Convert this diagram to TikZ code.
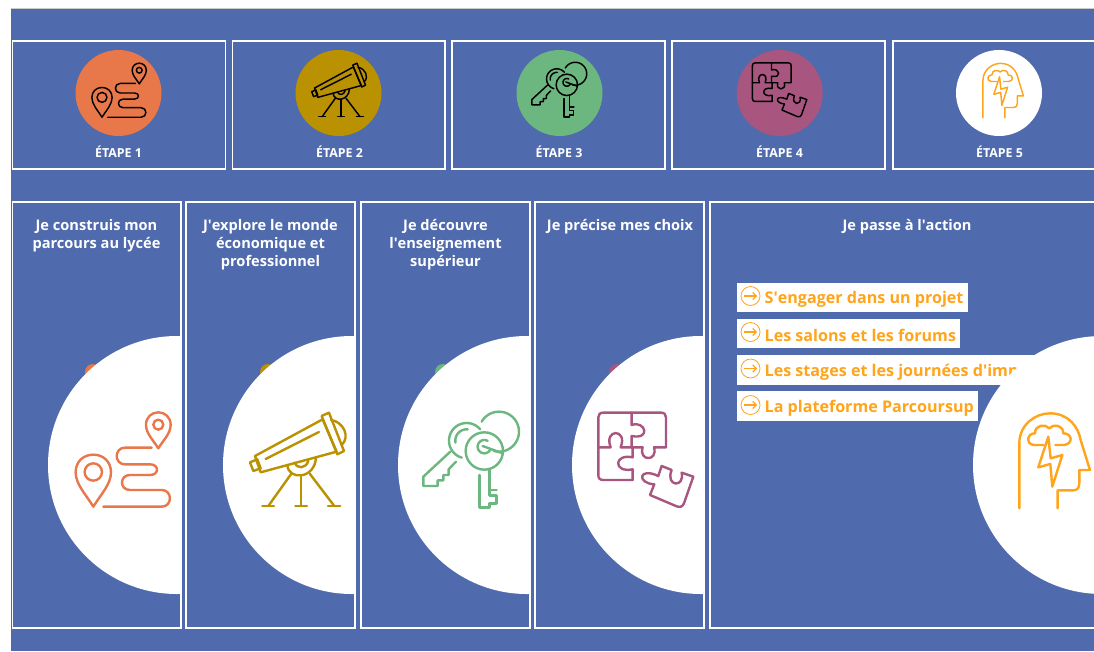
\documentclass[tikz,border=0pt]{standalone}
\usepackage{fontspec}
\setmainfont{Open Sans}
\usetikzlibrary{arrows.meta}
\definecolor{bluebg}{HTML}{4F6AAD}
\definecolor{coral}{HTML}{E8774A}
\definecolor{gold}{HTML}{BA9100}
\definecolor{leaf}{HTML}{6BB77F}
\definecolor{plum}{HTML}{A8567F}
\definecolor{amber}{HTML}{FFA41B}
\newcommand{\apos}{\textquotesingle}
\newcommand{\arcp}[5]{plot[domain=#4:#5,samples=36] ({#1+#3*cos(\x)},{#2+#3*sin(\x)})}
% icons drawn in 3x pixel coordinates
\newcommand{\iconroute}{
 \draw (280,500) .. controls (255,460) and (227,432) .. (227,397) .. controls (227,365) and (250,344) .. (280,344) .. controls (310,344) and (333,365) .. (333,397) .. controls (333,432) and (305,460) .. (280,500) -- cycle;
 \draw (280,396) circle[radius=26];
 \draw (475,325) .. controls (458,298) and (438,280) .. (438,254) .. controls (438,232) and (455,217) .. (475,217) .. controls (495,217) and (512,232) .. (512,254) .. controls (512,280) and (492,298) .. (475,325) -- cycle;
 \draw (475,254) circle[radius=15];
 \draw (455,323) -- (375,323) .. controls (342,323) and (342,373) .. (375,373) -- (450,373) .. controls (478,373) and (478,405) .. (450,405) -- (390,405) .. controls (358,405) and (358,450) .. (390,450) -- (485,450) .. controls (518,450) and (518,500) .. (485,500) -- (310,500);
}
\newcommand{\iconscope}{
 \draw (765,348) -- (968,238) -- (1010,335) -- (782,397) -- cycle;
 \draw (965,228) -- (987,218) -- (1032,333) -- (1012,343) -- cycle;
 \draw (993,240) .. controls (1030,245) and (1052,290) .. (1025,315);
 \draw (750,367) -- (772,358) -- (782,385) -- (760,393) -- cycle;
 \draw (797,357) -- (957,276);
 \draw (862,375) .. controls (865,422) and (945,418) .. (948,352);
 \draw (885,368) .. controls (890,388) and (920,386) .. (925,362);
 \draw (875,400) -- (805,498);
 \draw (903,410) -- (903,498);
 \draw (930,402) -- (1003,498);
 \draw (787,498) -- (822,498);
 \draw (886,498) -- (921,498);
 \draw (984,498) -- (1021,498);
}
\newcommand{\iconkeys}{
 \draw \arcp{387}{275}{60}{-150}{105};
 \draw \arcp{290}{302}{53}{-40}{-254};
 \draw \arcp{290}{302}{34}{-85}{-190};
 \draw (241,335) -- (160,410) -- (160,438) -- (203,438) -- (203,421) -- (220,421) -- (220,405) -- (236,405) -- (236,388) -- (258,365);
 \draw (343,333) circle[radius=56];
 \draw \arcp{343}{320}{20}{30}{300};
 \draw (338,318) -- (398,340);
 \draw (328,405) -- (328,502) -- (358,502) -- (358,490) -- (379,490) -- (379,466) -- (358,466) -- (358,450) -- (380,450);
 \draw (358,450) -- (358,390);
}
\newcommand{\iconpuzzle}{
 \draw (788,420) -- (700,420) .. controls (690,420) and (685,415) .. (685,405) -- (685,232) .. controls (685,223) and (690,218) .. (700,218) -- (873,218) .. controls (883,218) and (888,223) .. (888,232) -- (888,322) -- (852,322) .. controls (865,365) and (805,365) .. (818,322) -- (788,322);
 \draw (785,218) -- (785,255) .. controls (825,240) and (845,300) .. (785,288) -- (785,322);
 \draw (685,322) -- (722,322) .. controls (700,265) and (775,265) .. (752,322) -- (788,322);
 \draw (788,322) -- (788,352) .. controls (730,340) and (730,400) .. (788,388) -- (788,420);
 \draw (875,378) -- (905,390) .. controls (885,440) and (945,445) .. (935,398) -- (970,410) -- (942,490) .. controls (938,500) and (930,503) .. (920,499) -- (840,465) -- (853,433) .. controls (800,430) and (805,380) .. (865,408) -- cycle;
}
\newcommand{\iconhead}{
 \draw (928,715) -- (928,520) .. controls (928,465) and (975,430) .. (1020,430) .. controls (1075,430) and (1105,470) .. (1112,510) -- (1140,600) -- (1108,600) -- (1108,640) .. controls (1108,655) and (1100,661) .. (1090,661) -- (1043,661) -- (1043,715);
 \draw (1000,525) -- (972,525) .. controls (945,522) and (950,490) .. (975,490) .. controls (975,465) and (1005,460) .. (1018,475) .. controls (1030,460) and (1060,465) .. (1060,490) .. controls (1088,490) and (1090,522) .. (1062,525) -- (1036,525);
 \draw (1015,500) -- (985,592) -- (1021,582) -- (1027,650) -- (1057,555) -- (1022,565) -- cycle;
}
% \placeicon{macro}{colour}{width}{target x}{target y}{scale}{source x}{source y}
\newcommand{\placeicon}[8]{
 \begin{scope}[shift={(#4,#5)},scale=#6,shift={(-#7,-#8)},draw=#2,line width=#3,line join=round,line cap=round]
 #1
 \end{scope}
}
\tikzset{
 frame/.style={draw=white,line width=1.7pt,fill=bluebg},
 etape/.style={text=white,font=\bfseries\fontsize{12.4}{13}\selectfont,inner sep=0pt},
 head/.style={text=white,font=\bfseries\fontsize{14.6}{18}\selectfont,align=center,anchor=north,inner sep=0pt},
 tag/.style={fill=white,inner sep=0pt},
 tagtext/.style={text=amber,font=\bfseries\fontsize{16.1}{18}\selectfont,anchor=west,inner sep=0pt},
 disc/.style={circle,minimum size=86pt,inner sep=0pt},
 arrowring/.style={draw=amber,line width=.8pt,circle,minimum size=19pt,inner sep=0pt},
 arrowline/.style={draw=amber,line width=1.1pt,-{Straight Barb[length=3.5pt,width=7pt]}}
}
\begin{document}
\begin{tikzpicture}[x=1pt,y=-1pt]
\useasboundingbox (0,0) rectangle (1094,651);
\fill[white] (0,0) rectangle (1094,651);
\fill[black!20] (11,7.5) rectangle (1094,9);
\fill[bluebg] (11,9) rectangle (1094,651);
% top row
\foreach \a/\b in {12.5/225.5,232.5/445,452/665,672/885,893/1100}{
 \draw[frame] (\a,41) rectangle (\b,169);
}
\node[disc,fill=coral] (d1) at (118.5,93) {};
\node[disc,fill=gold] (d2) at (338.5,93) {};
\node[disc,fill=leaf] (d3) at (559.5,93) {};
\node[disc,fill=plum] (d4) at (779.7,93) {};
\node[disc,fill=white] (d5) at (999,93) {};
\placeicon{\iconroute}{black}{1.45pt}{119}{90.5}{0.191}{369}{360}
\placeicon{\iconscope}{black}{1.45pt}{339}{90.5}{0.191}{893}{361}
\placeicon{\iconkeys}{black}{1.45pt}{559.2}{90}{0.191}{303}{360}
\placeicon{\iconpuzzle}{black}{1.45pt}{779.5}{90}{0.191}{827}{360}
\placeicon{\iconhead}{amber}{1.45pt}{1003}{90.3}{0.191}{1033}{571}
\node[etape] (e1) at (118.5,151.5) {ÉTAPE 1};
\node[etape] (e2) at (339.5,151.5) {ÉTAPE 2};
\node[etape] (e3) at (559,151.5) {ÉTAPE 3};
\node[etape] (e4) at (779.5,151.5) {ÉTAPE 4};
\node[etape] (e5) at (999.5,151.5) {ÉTAPE 5};
% bottom row
\foreach \a/\b/\c/\col in {12.5/181/177/coral,186/355/352/gold,361/530/527/leaf,535/704/701/plum}{
 \draw[frame] (\a,202) rectangle (\b,628);
 \begin{scope}
  \clip (\a,202) rectangle (\b-1,594);
  \fill[\col] (\c-84,372) circle[radius=8];
  \fill[white] (\c,465) circle[radius=129];
 \end{scope}
}
\draw[frame] (710,202) rectangle (1100,628);
\node[head] (h1) at (96.5,219) {Je construis mon\\parcours au lycée};
\node[head] (h2) at (270.5,219) {J\apos explore le monde\\économique et\\professionnel};
\node[head] (h3) at (445.5,219) {Je découvre\\l\apos enseignement\\supérieur};
\node[head] (h4) at (620,219) {Je précise mes choix};
\node[head] (h5) at (907,219) {Je passe à l\apos action};
% list
\fill[tag] (736.5,282.5) rectangle (967.5,312);
\fill[tag] (736.5,318.5) rectangle (960,348);
\fill[tag] (736.5,355) rectangle (1045,385);
\fill[tag] (736.5,391) rectangle (978,421);
\node[tagtext] (l1) at (764.5,299.5) {S\apos engager dans un projet};
\node[tagtext] (l2) at (764.5,335) {Les salons et les forums};
\node[tagtext] (l3) at (764.5,372.5) {Les stages et les journées d\apos imm};
\node[tagtext] (l4) at (764.5,408.5) {La plateforme Parcoursup};
\foreach \y/\m in {296/a1,332/a2,368.5/a3,405/a4}{
 \node[arrowring] (\m) at (750.5,\y) {};
 \draw[arrowline] (744,\y) -- (757,\y);
}
\begin{scope}
 \clip (900,300) rectangle (1094,628);
 \fill[white] (1102,465) circle[radius=129];
\end{scope}
% large icons
\placeicon{\iconroute}{coral}{2.4pt}{0}{340}{0.3333}{0}{0}
\placeicon{\iconscope}{gold}{2.4pt}{0}{340}{0.3333}{0}{0}
\placeicon{\iconkeys}{leaf}{2.4pt}{370}{340}{0.3333}{0}{0}
\placeicon{\iconpuzzle}{plum}{2.4pt}{370}{340}{0.3333}{0}{0}
\placeicon{\iconhead}{amber}{2.4pt}{710}{270}{0.3333}{0}{0}
\end{tikzpicture}
\end{document}
